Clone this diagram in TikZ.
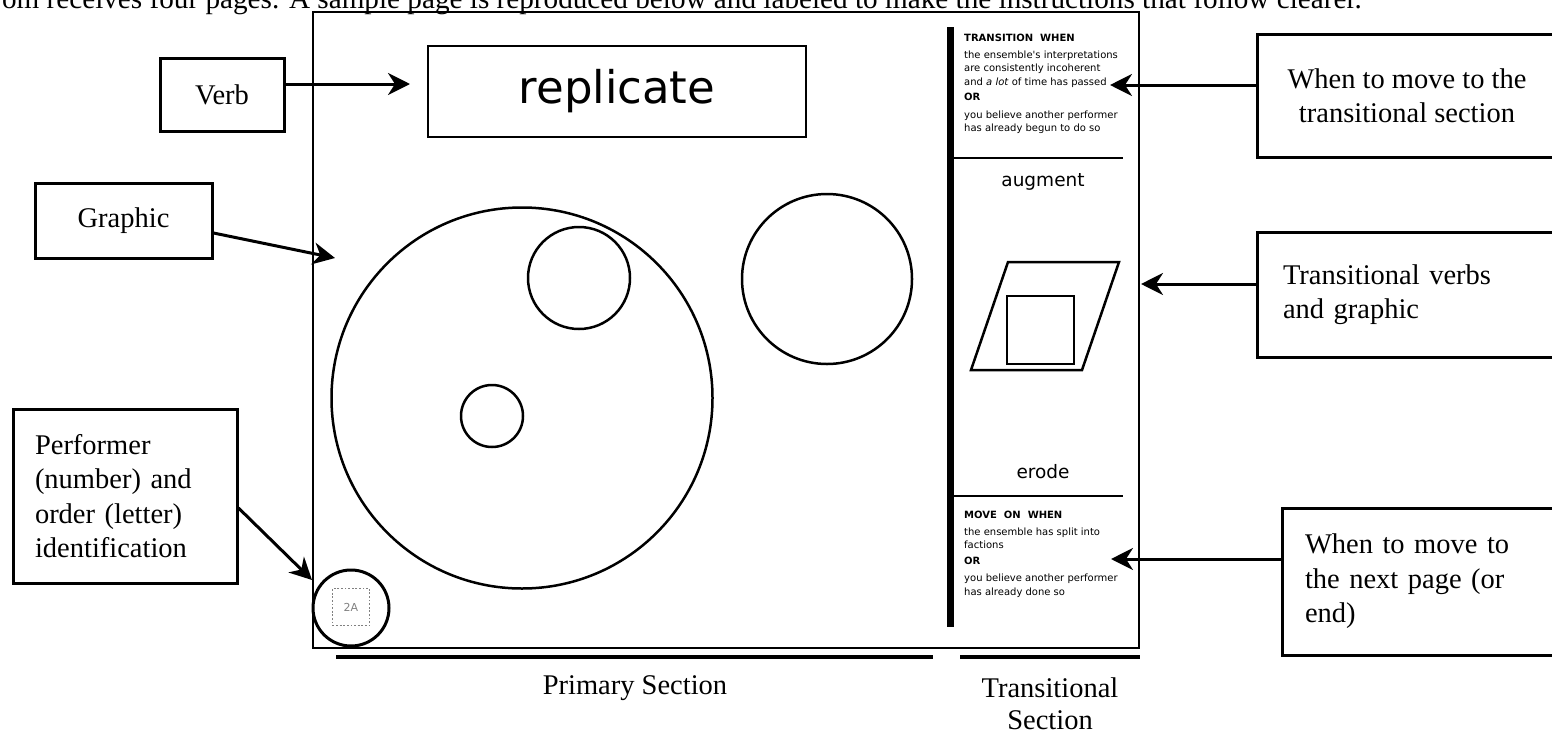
\documentclass[tikz,border=0pt]{standalone}
\usepackage{fontspec}
\setmainfont{Liberation Serif}
\newfontfamily\pagefont{DejaVu Sans}
\usetikzlibrary{arrows.meta}
\begin{document}
\begin{tikzpicture}[x=1pt,y=-1pt,
  lbl/.style={draw, line width=3pt, font=\fontsize{28.5}{34.5}\selectfont, inner sep=0pt},
  arr/.style={line width=3pt, -{Stealth[length=22pt,width=22pt,inset=7pt]}},
  pgline/.style={line width=2.5pt},
  ptext/.style={font=\pagefont\fontsize{10}{13.5}\selectfont, align=left, inner sep=0pt},
  circ/.style={draw, circle, line width=2.5pt, inner sep=0pt}
]
\useasboundingbox (0,0) rectangle (1552,734);
\clip (0,0) rectangle (1552,734);

% clipped running text at the top
\node[anchor=base east, font=\fontsize{29.2}{34.5}\selectfont, inner sep=0pt] (toptext) at (1362,8)
  {om receives four pages. A sample page is reproduced below and labeled to make the instructions that follow clearer.};

% the page
\node[draw, line width=1.5pt, minimum width=826pt, minimum height=636pt, inner sep=0pt] (page) at (726,330) {};
\node[draw, line width=2.5pt, minimum width=378pt, minimum height=91pt, inner sep=0pt,
      font=\pagefont\fontsize{45}{54}\selectfont] (verbbox) at (617,91.5) {replicate};

\node[circ, minimum size=381pt] (big) at (522,398) {};
\node[circ, minimum size=102pt] (med) at (579,278) {};
\node[circ, minimum size=62pt] (small) at (492,416) {};
\node[circ, minimum size=170pt] (right) at (827,279) {};
\node[circ, line width=3pt, minimum size=76pt] (id) at (351,608) {};
\node[draw=gray, dash pattern=on 1.8pt off 1.8pt, line width=1.8pt, minimum size=37pt, inner sep=0pt,
      text=gray, font=\pagefont\fontsize{11}{13}\selectfont] (idsq) at (351,607) {2A};

% transitional section
\draw[line width=7pt] (950,27) -- (950,627);
\draw[pgline] (953,158) -- (1123,158);
\draw[pgline] (953,496) -- (1123,496);

\node[ptext, anchor=north west] (trans) at (964,34)
  {{\bfseries TRANSITION\ \ WHEN}\\[3pt]
   the ensemble's interpretations\\
   are consistently incoherent\\
   and \textit{a lot} of time has passed\\[2pt]
   {\bfseries OR}\\[4pt]
   you believe another performer\\
   has already begun to do so};

\node[font=\pagefont\fontsize{18.5}{22}\selectfont] (augment) at (1043,182) {augment};
\draw[pgline] (1008,262) -- (1119,262) -- (1082,370) -- (971,370) -- cycle;
\draw[line width=2pt] (1007,296) rectangle (1074,364);
\node[font=\pagefont\fontsize{18.5}{22}\selectfont] (erode) at (1043,472) {erode};

\node[ptext, anchor=north west] (moveon) at (964,511)
  {{\bfseries MOVE\ \ ON\ \ WHEN}\\[3pt]
   the ensemble has split into\\
   factions\\[2pt]
   {\bfseries OR}\\[4pt]
   you believe another performer\\
   has already done so};

% section underlines
\draw[line width=4pt] (336,657) -- (933,657);
\draw[line width=4pt] (960,657) -- (1140,657);
\node[font=\fontsize{28.5}{34.5}\selectfont] (primary) at (635,688) {Primary Section};
\node[font=\fontsize{28.5}{32}\selectfont, align=center] (transsec) at (1050,704) {Transitional\\Section};

% labels
\node[lbl, minimum width=124pt, minimum height=73pt] (verb) at (222,94.5) {Verb};
\node[lbl, minimum width=177pt, minimum height=75pt] (graphic) at (123.5,220.5) {Graphic};
\node[lbl, minimum width=224pt, minimum height=174pt, text width=180pt, align=left] (performer) at (125,496)
  {Performer\\(number) and\\order (letter)\\identification};
\node[lbl, minimum width=300pt, minimum height=123pt, align=center] (when1) at (1407,95.5)
  {When to move to the\\transitional section};
\node[lbl, minimum width=303pt, minimum height=125pt, text width=251pt, align=left] (tverbs) at (1408.5,294.5)
  {Transitional verbs\\and graphic};
\node[lbl, minimum width=278pt, minimum height=147pt, text width=232pt, align=left] (when2) at (1421,581.5)
  {When to move to\\the next page (or\\end)};

% arrows
\coordinate (verbtip) at (410,84);
\coordinate (graphtip) at (335,258);
\coordinate (perftip) at (312,580);
\coordinate (t1tip) at (1110,85);
\coordinate (t2tip) at (1141,284);
\coordinate (t3tip) at (1111,559);

\draw[arr] (verb.east |- verbtip) -- (verbtip);
\draw[arr] ([yshift=-12.5pt]graphic.east) -- (graphtip);
\draw[arr] ([yshift=-12pt]performer.east) -- (perftip);
\draw[arr] (when1.west |- t1tip) -- (t1tip);
\draw[arr] (tverbs.west |- t2tip) -- (t2tip);
\draw[arr] (when2.west |- t3tip) -- (t3tip);
\end{tikzpicture}
\end{document}
